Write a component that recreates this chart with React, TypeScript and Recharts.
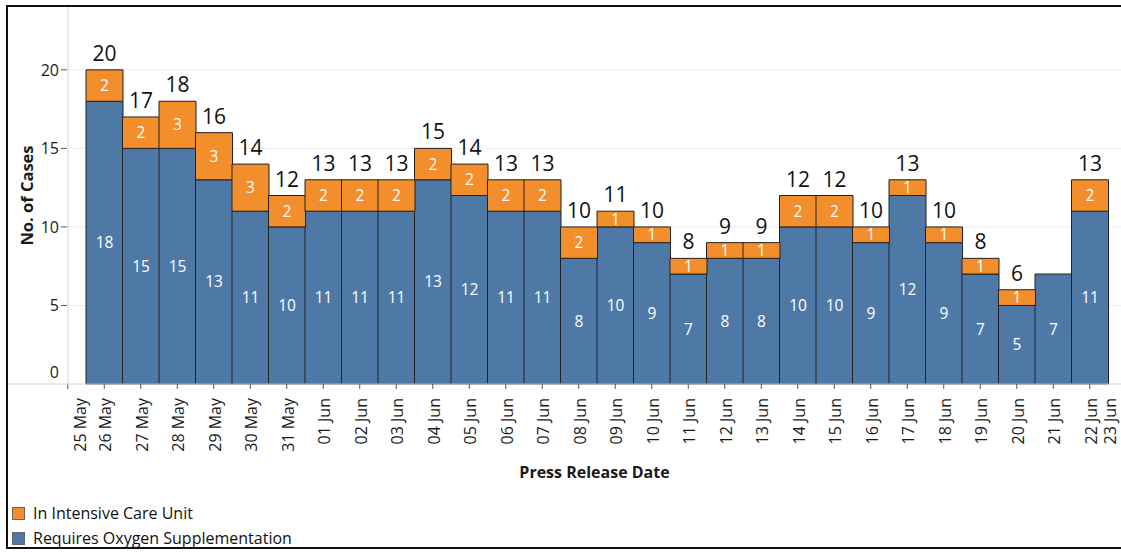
import { BarChart, Bar, XAxis, YAxis, CartesianGrid, LabelList } from 'recharts';

const dates = [
  '26 May', '27 May', '28 May', '29 May', '30 May', '31 May', '01 Jun', '02 Jun', '03 Jun', '04 Jun',
  '05 Jun', '06 Jun', '07 Jun', '08 Jun', '09 Jun', '10 Jun', '11 Jun', '12 Jun', '13 Jun', '14 Jun',
  '15 Jun', '16 Jun', '17 Jun', '18 Jun', '19 Jun', '20 Jun', '21 Jun', '22 Jun',
];
const oxygen = [18, 15, 15, 13, 11, 10, 11, 11, 11, 13, 12, 11, 11, 8, 10, 9, 7, 8, 8, 10, 10, 9, 12, 9, 7, 5, 7, 11];
const icu = [2, 2, 3, 3, 3, 2, 2, 2, 2, 2, 2, 2, 2, 2, 1, 1, 1, 1, 1, 2, 2, 1, 1, 1, 1, 1, 0, 2];
const firstDateLabel = '25 May';
const lastDateLabel = '23 Jun';
const yTicks = [0, 5, 10, 15, 20];

const BLUE = '#4e79a7';
const ORANGE = '#f28e2b';
const FONT = '"Open Sans", "Noto Sans", sans-serif';

const data = dates.map((d, i) => ({
  date: d,
  oxygen: oxygen[i],
  icu: icu[i],
  total: oxygen[i] + icu[i],
}));

function DateTick(props: any) {
  const { x, y, payload, index } = props;
  const half = payload?.offset ?? 18;
  const label = (tx: number, text: string) => (
    <text
      x={tx}
      y={y + 6}
      transform={`rotate(-90, ${tx}, ${y + 6})`}
      textAnchor="end"
      dominantBaseline="central"
      fontSize={16}
      fontFamily={FONT}
      fill="#1a1a1a"
    >
      {text}
    </text>
  );
  return (
    <g>
      <line x1={x} x2={x} y1={y - 8} y2={y - 3} stroke="#555" />
      {label(x + 1, payload.value)}
      {index === 0 && (
        <g>
          <line x1={x - 2 * half} x2={x - 2 * half} y1={y - 8} y2={y - 3} stroke="#555" />
          {label(x - 24, firstDateLabel)}
        </g>
      )}
      {index === dates.length - 1 && label(x + 20, lastDateLabel)}
    </g>
  );
}

function CountTick(props: any) {
  const { x, y, payload } = props;
  const isZero = payload.value === 0;
  return (
    <g>
      {!isZero && <line x1={x + 1} x2={x + 7} y1={y} y2={y} stroke="#555" />}
      {isZero && <line x1={x - 52} x2={x + 8} y1={y} y2={y} stroke="#d4d4d4" />}
      <text
        x={x - 1}
        y={isZero ? y - 12 : y}
        textAnchor="end"
        dominantBaseline="central"
        fontSize={16}
        fontFamily={FONT}
        fill="#1a1a1a"
      >
        {payload.value}
      </text>
    </g>
  );
}

function YTitle(props: any) {
  const { viewBox } = props;
  const cx = viewBox.x + 18;
  const cy = viewBox.y + viewBox.height / 2;
  return (
    <text
      x={cx}
      y={cy}
      transform={`rotate(-90, ${cx}, ${cy})`}
      textAnchor="middle"
      dominantBaseline="central"
      fontSize={16.5}
      fontWeight="bold"
      fontFamily={FONT}
      fill="#1a1a1a"
    >
      No. of Cases
    </text>
  );
}

const legendItems = [
  { label: 'In Intensive Care Unit', color: ORANGE },
  { label: 'Requires Oxygen Supplementation', color: BLUE },
];

export default function App() {
  return (
    <div style={{ position: 'absolute', left: 0, top: 0, width: 1121, height: 552, background: '#fff', overflow: 'hidden' }}>
      <div
        style={{
          position: 'absolute',
          left: 6,
          top: 5,
          width: 1121,
          height: 544,
          borderLeft: '2px solid #111',
          borderTop: '2px solid #111',
          borderBottom: '2px solid #111',
          boxSizing: 'border-box',
        }}
      />
      <div style={{ position: 'absolute', left: 0, top: 0 }}>
        <BarChart
          width={1121}
          height={552}
          data={data}
          barCategoryGap={0}
          margin={{ top: 7, right: 0, left: 8, bottom: 68 }}
        >
          <CartesianGrid vertical={false} stroke="#ececec" horizontalValues={[5, 10, 15, 20]} />
          <XAxis
            dataKey="date"
            interval={0}
            height={100}
            padding={{ left: 18, right: 13 }}
            axisLine={{ stroke: '#d4d4d4' }}
            tickLine={false}
            tick={<DateTick />}
            label={{
              value: 'Press Release Date',
              position: 'insideBottom',
              offset: 6,
              fontSize: 16,
              fontWeight: 'bold',
              fontFamily: FONT,
              fill: '#1a1a1a',
            }}
          />
          <YAxis
            width={60}
            domain={[0, 24]}
            ticks={yTicks}
            axisLine={{ stroke: '#d4d4d4' }}
            tickLine={false}
            tick={<CountTick />}
            label={<YTitle />}
          />
          <Bar dataKey="oxygen" stackId="a" fill={BLUE} stroke="#222" strokeWidth={1} isAnimationActive={false}>
            <LabelList dataKey="oxygen" position="center" fill="#fff" fontSize={15.5} fontFamily={FONT} />
          </Bar>
          <Bar dataKey="icu" stackId="a" fill={ORANGE} stroke="#222" strokeWidth={1} isAnimationActive={false}>
            <LabelList
              dataKey="icu"
              position="center"
              fill="#fff"
              fontSize={15.5}
              fontFamily={FONT}
              formatter={(v: any) => (v ? v : '')}
            />
            <LabelList dataKey="total" position="top" offset={9} fill="#111" fontSize={21} fontFamily={FONT} />
          </Bar>
        </BarChart>
      </div>
      {legendItems.map((item, i) => (
        <div
          key={item.label}
          style={{
            position: 'absolute',
            left: 12,
            top: 502 + i * 25,
            display: 'flex',
            alignItems: 'center',
            fontFamily: FONT,
            fontSize: 16,
            color: '#111',
            whiteSpace: 'nowrap',
          }}
        >
          <span
            style={{
              display: 'inline-block',
              width: 11,
              height: 11,
              background: item.color,
              border: '1px solid #666',
              marginRight: 8,
            }}
          />
          {item.label}
        </div>
      ))}
    </div>
  );
}
